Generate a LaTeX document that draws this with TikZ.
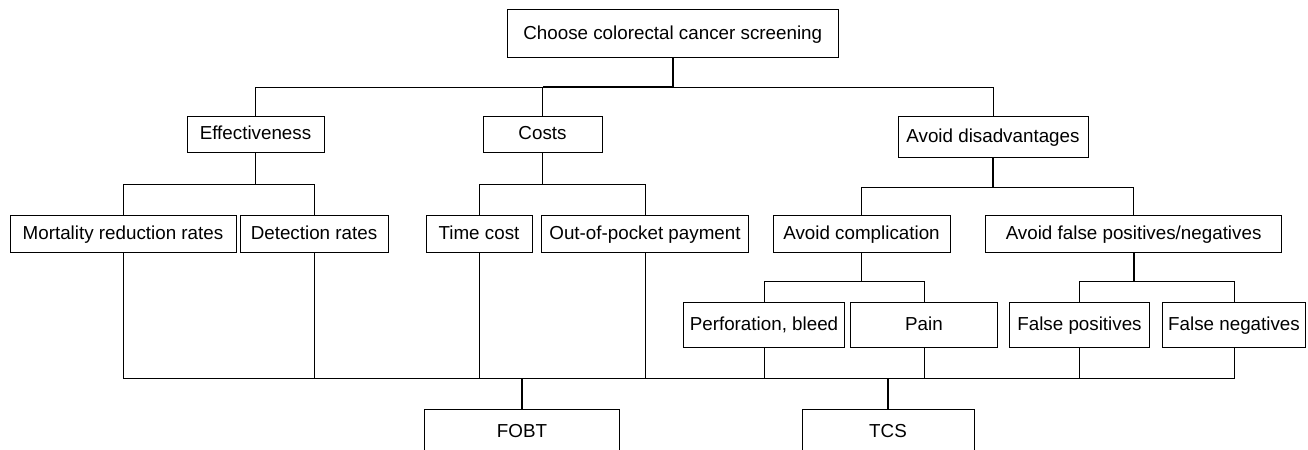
\documentclass[tikz,border=0pt]{standalone}
\usepackage{fontspec}
\setmainfont{Liberation Sans}

\begin{document}
\begin{tikzpicture}[x=0.5pt, y=-0.5pt,
    box/.style={rectangle, draw, line width=0.5pt, inner sep=1pt, text height=6.8pt, text depth=1pt, font=\fontsize{9.4}{11}\selectfont},
    link/.style={line width=0.5pt},
    stem/.style={line width=0.9pt}]

    \useasboundingbox (0,0) rectangle (1308,450);
    \clip (0,0) rectangle (1308,450);

    % goal
    \node (top) [box, minimum width=165.75pt, minimum height=24pt] at (672.75,33.3) {Choose colorectal cancer screening};

    % criteria
    \node (eff) [box, minimum width=68.5pt, minimum height=18pt] at (255.5,134) {Effectiveness};
    \node (costs) [box, minimum width=59.5pt, minimum height=18pt] at (542.5,134) {Costs};
    \node (avd) [box, minimum width=95pt, minimum height=20.5pt] at (993,136.5) {Avoid disadvantages};

    % sub-criteria
    \node (mort) [box, minimum width=113pt, minimum height=18.5pt] at (123,233.5) {Mortality reduction rates};
    \node (det) [box, minimum width=74pt, minimum height=18.5pt] at (314,233.5) {Detection rates};
    \node (time) [box, minimum width=53pt, minimum height=18.5pt] at (479,233.5) {Time cost};
    \node (oop) [box, minimum width=103.3pt, minimum height=18.5pt] at (645,233.5) {Out-of-pocket payment};
    \node (ac) [box, minimum width=88.5pt, minimum height=18.5pt] at (861.5,233.5) {Avoid complication};
    \node (af) [box, minimum width=148pt, minimum height=18.5pt] at (1133.6,233.5) {Avoid false positives/negatives};

    \node (perf) [box, minimum width=80.35pt, minimum height=22.5pt] at (764,324.5) {Perforation, bleed};
    \node (pain) [box, minimum width=73.5pt, minimum height=22.5pt] at (924,324.5) {Pain};
    \node (fp) [box, minimum width=70pt, minimum height=22.5pt] at (1079.5,324.5) {False positives};
    \node (fn) [box, minimum width=71.35pt, minimum height=22.5pt] at (1234,324.5) {False negatives};

    % alternatives
    \node (fobt) [box, minimum width=97.75pt, minimum height=23pt] at (522,432) {FOBT};
    \node (tcs) [box, minimum width=86pt, minimum height=23pt] at (888,432) {TCS};

    % tree
    \draw [stem] (top.south) -- ++(0,29.4) coordinate (j0);
    \draw [stem] (j0) -- (j0 -| costs.north);
    \draw [link] (j0) -| (eff.north);
    \draw [link] (j0) -| (costs.north);
    \draw [link] (j0) -| (avd.north);

    \draw [stem] (eff.south) -- ++(0,32) coordinate (j1);
    \draw [link] (j1) -| (mort.north);
    \draw [link] (j1) -| (det.north);

    \draw [stem] (costs.south) -- ++(0,32) coordinate (j2);
    \draw [link] (j2) -| (time.north);
    \draw [link] (j2) -| (oop.north);

    \draw [stem] (avd.south) -- ++(0,30) coordinate (j3);
    \draw [link] (j3) -| (ac.north);
    \draw [link] (j3) -| (af.north);

    \draw [stem] (ac.south) -- ++(0,29) coordinate (j4);
    \draw [link] (j4) -| (perf.north);
    \draw [link] (j4) -| (pain.north);

    \draw [stem] (af.south) -- ++(0,29) coordinate (j5);
    \draw [link] (j5) -| (fp.north);
    \draw [link] (j5) -| (fn.north);

    % every leaf to every alternative
    \coordinate (bus) at (0,378);
    \foreach \leaf in {mort,det,time,oop,perf,pain,fp,fn} {
        \draw [link] (\leaf.south) -- (\leaf.south |- bus) -| (fobt.north);
        \draw [link] (\leaf.south) -- (\leaf.south |- bus) -| (tcs.north);
    }
    \draw [stem] (fobt.north) -- (fobt.north |- bus);
    \draw [stem] (tcs.north) -- (tcs.north |- bus);
\end{tikzpicture}
\end{document}
